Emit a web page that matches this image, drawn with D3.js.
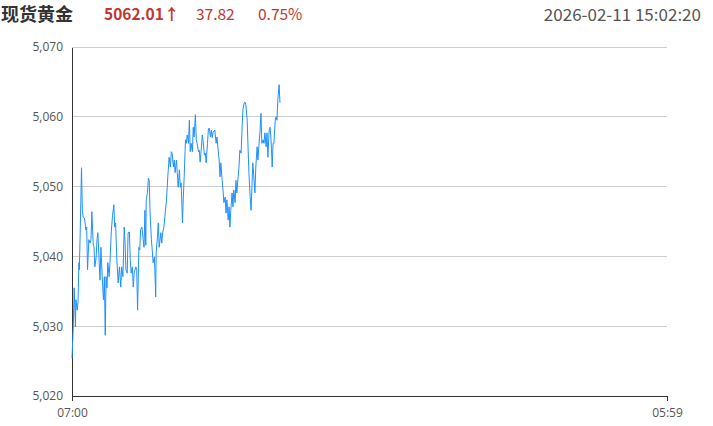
<!DOCTYPE html>
<html>
<head>
<meta charset="utf-8">
<script src="https://cdn.jsdelivr.net/npm/d3@7"></script>
<style>
  html, body { margin: 0; padding: 0; background: #fff; }
  svg { display: block; font-family: "Noto Sans CJK SC", "Open Sans", sans-serif; }
</style>
</head>
<body>
<svg id="chart"></svg>
<script>
// ── header info ──
const title = '现货黄金';
const lastPrice = '5062.01';
const change = '37.82';
const changePct = '0.75%';
const stamp = '2026-02-11 15:02:20';

// ── axis ──
const sessionOpen = '07:00';
const sessionClose = '05:59';
const sessionLength = 1379;           // minutes 07:00 → 05:59 next day
const yTicks = [5020, 5030, 5040, 5050, 5060, 5070];

// ── series: minutes since open, price ──
const minutes = [
    0, 3, 5, 8, 9, 12, 14, 16, 17, 19, 22, 24, 26, 29, 32, 34, 36, 39, 42, 44,
    46, 49, 51, 53, 56, 58, 60, 63, 65, 67, 70, 73, 75, 77, 79, 81, 83, 86, 88, 91,
    94, 97, 99, 101, 104, 107, 110, 113, 115, 118, 121, 123, 125, 128, 130, 133, 135, 137, 140, 142,
    144, 148, 150, 152, 155, 157, 159, 162, 165, 167, 169, 171, 172, 175, 177, 179, 181, 184, 186, 188,
    191, 194, 195, 198, 200, 202, 206, 208, 210, 213, 216, 219, 222, 225, 228, 230, 232, 235, 237, 239,
    242, 244, 246, 249, 251, 253, 256, 258, 260, 263, 265, 267, 270, 272, 274, 276, 279, 281, 283, 286,
    288, 290, 293, 295, 297, 300, 302, 304, 307, 309, 311, 314, 316, 318, 321, 323, 325, 327, 331, 334,
    336, 338, 341, 343, 345, 348, 350, 352, 355, 357, 359, 362, 364, 366, 368, 371, 373, 375, 378, 380,
    382, 385, 387, 389, 392, 394, 396, 399, 401, 403, 406, 408, 410, 413, 415, 417, 419, 422, 424, 426,
    429, 431, 433, 436, 438, 440, 443, 445, 447, 450, 452, 454, 457, 459, 461, 464, 466, 468, 471, 473,
    475, 477, 480, 482
];
const prices = [
    5025.4, 5029.9, 5035.5, 5029.9, 5033.8, 5032.3, 5033.5, 5039.1, 5038.1, 5043.4,
    5052.7, 5046.6, 5045.6, 5045.5, 5043.8, 5044.2, 5038.1, 5042.4, 5041.9, 5042.4,
    5046.4, 5041.9, 5041.3, 5038.5, 5039.9, 5042.4, 5043.4, 5039.1, 5036.6, 5041.3,
    5037.1, 5033.8, 5037.1, 5028.7, 5037.1, 5035.5, 5039.1, 5037.1, 5039.1, 5043.5,
    5045.9, 5047.4, 5044.2, 5044.8, 5039.5, 5036.2, 5038.5, 5035.6, 5038.5, 5037.1,
    5044.2, 5041.9, 5038.1, 5037.6, 5043.4, 5043.5, 5039.5, 5037.6, 5038.5, 5035.6,
    5037.6, 5038.5, 5038.1, 5032.3, 5041.3, 5040.9, 5043.8, 5044.2, 5042.4, 5041.3,
    5046.6, 5041.6, 5048.1, 5049.2, 5051.2, 5050.9, 5046.2, 5042.4, 5040.9, 5039.1,
    5039.9, 5034.2, 5040.5, 5042.8, 5044.8, 5041.3, 5043.4, 5041.9, 5043.4, 5044.2,
    5046.2, 5048.1, 5051.4, 5054.2, 5052.8, 5055.0, 5054.8, 5052.8, 5053.8, 5052.0,
    5053.8, 5052.0, 5049.9, 5052.4, 5049.9, 5050.5, 5044.8, 5048.5, 5051.4, 5056.7,
    5056.2, 5057.4, 5056.2, 5059.5, 5055.0, 5056.2, 5055.0, 5058.5, 5057.1, 5060.3,
    5056.7, 5056.2, 5055.0, 5055.2, 5053.5, 5055.7, 5057.4, 5056.4, 5054.5, 5054.8,
    5053.4, 5056.2, 5058.1, 5058.4, 5057.1, 5058.1, 5057.0, 5057.8, 5058.1, 5056.2,
    5057.1, 5055.7, 5053.8, 5051.4, 5053.4, 5050.9, 5049.5, 5047.7, 5048.5, 5046.2,
    5048.1, 5045.2, 5047.1, 5044.2, 5046.6, 5049.1, 5047.1, 5049.5, 5047.7, 5050.9,
    5049.1, 5051.4, 5052.8, 5055.2, 5054.8, 5058.1, 5061.0, 5062.0, 5062.1, 5061.7,
    5059.5, 5055.7, 5052.0, 5048.5, 5046.6, 5049.9, 5053.4, 5050.9, 5049.1, 5052.8,
    5055.7, 5053.8, 5055.7, 5058.1, 5060.5, 5056.2, 5056.7, 5056.2, 5057.7, 5055.7,
    5057.7, 5054.2, 5058.1, 5058.5, 5057.1, 5052.8, 5056.2, 5056.2, 5059.5, 5060.0,
    5059.5, 5062.4, 5064.6, 5062.01
];

const W = 713, H = 426;
const margin = { top: 47, right: 46, bottom: 30, left: 72 };
const RED = '#c23531';
const LINE_COLOR = '#1e90ff';

const svg = d3.select('#chart').attr('width', W).attr('height', H);

// ── header ──
const head = svg.append('g').attr('font-size', 15.5);
head.append('text').attr('x', 1).attr('y', 21)
    .attr('font-weight', 'bold').attr('font-size', 18).attr('fill', '#333')
    .text(title);
head.append('text').attr('x', 104).attr('y', 20)
    .attr('font-weight', 'bold').attr('fill', RED)
    .text(lastPrice + '↑');
head.append('text').attr('x', 196).attr('y', 20).attr('fill', RED).text(change);
head.append('text').attr('x', 258).attr('y', 20).attr('fill', RED).text(changePct);
head.append('text').attr('x', 701).attr('y', 21).attr('text-anchor', 'end')
    .attr('font-size', 17).attr('fill', '#555').text(stamp);

// ── scales ──
const x = d3.scaleLinear()
    .domain([0, sessionLength])
    .range([margin.left, W - margin.right]);

const y = d3.scaleLinear()
    .domain([d3.min(yTicks), d3.max(yTicks)])
    .range([H - margin.bottom, margin.top]);

// gridlines
svg.append('g')
    .selectAll('line')
    .data(yTicks.slice(1))
    .join('line')
    .attr('x1', margin.left).attr('x2', W - margin.right)
    .attr('y1', d => y(d)).attr('y2', d => y(d))
    .attr('stroke', '#ccc').attr('stroke-width', 1)
    .attr('shape-rendering', 'crispEdges');

// y axis
const yAxis = svg.append('g')
    .attr('transform', `translate(${margin.left},0)`)
    .call(d3.axisLeft(y).tickValues(yTicks).tickFormat(d3.format(',')).tickSize(0).tickPadding(9));
yAxis.select('.domain').attr('stroke', '#333').attr('shape-rendering', 'crispEdges');
yAxis.selectAll('text').attr('font-size', 12).attr('fill', '#555')
    .attr('font-family', '"Open Sans", sans-serif');

// x axis
const xAxis = svg.append('g')
    .attr('transform', `translate(0,${H - margin.bottom})`)
    .call(d3.axisBottom(x)
        .tickValues([0, sessionLength])
        .tickFormat(d => d === 0 ? sessionOpen : sessionClose)
        .tickSizeOuter(0).tickSizeInner(5).tickPadding(7));
xAxis.select('.domain').attr('stroke', '#333').attr('shape-rendering', 'crispEdges');
xAxis.selectAll('.tick line').attr('stroke', '#333');
xAxis.selectAll('text').attr('font-size', 12).attr('fill', '#555')
    .attr('font-family', '"Open Sans", sans-serif');

// price line
const series = minutes.map((m, i) => ({ m, p: prices[i] }));
svg.append('path')
    .datum(series)
    .attr('fill', 'none')
    .attr('stroke', LINE_COLOR)
    .attr('stroke-width', 1)
    .attr('stroke-linejoin', 'round')
    .attr('d', d3.line().x(d => x(d.m)).y(d => y(d.p)));
</script>
</body>
</html>
